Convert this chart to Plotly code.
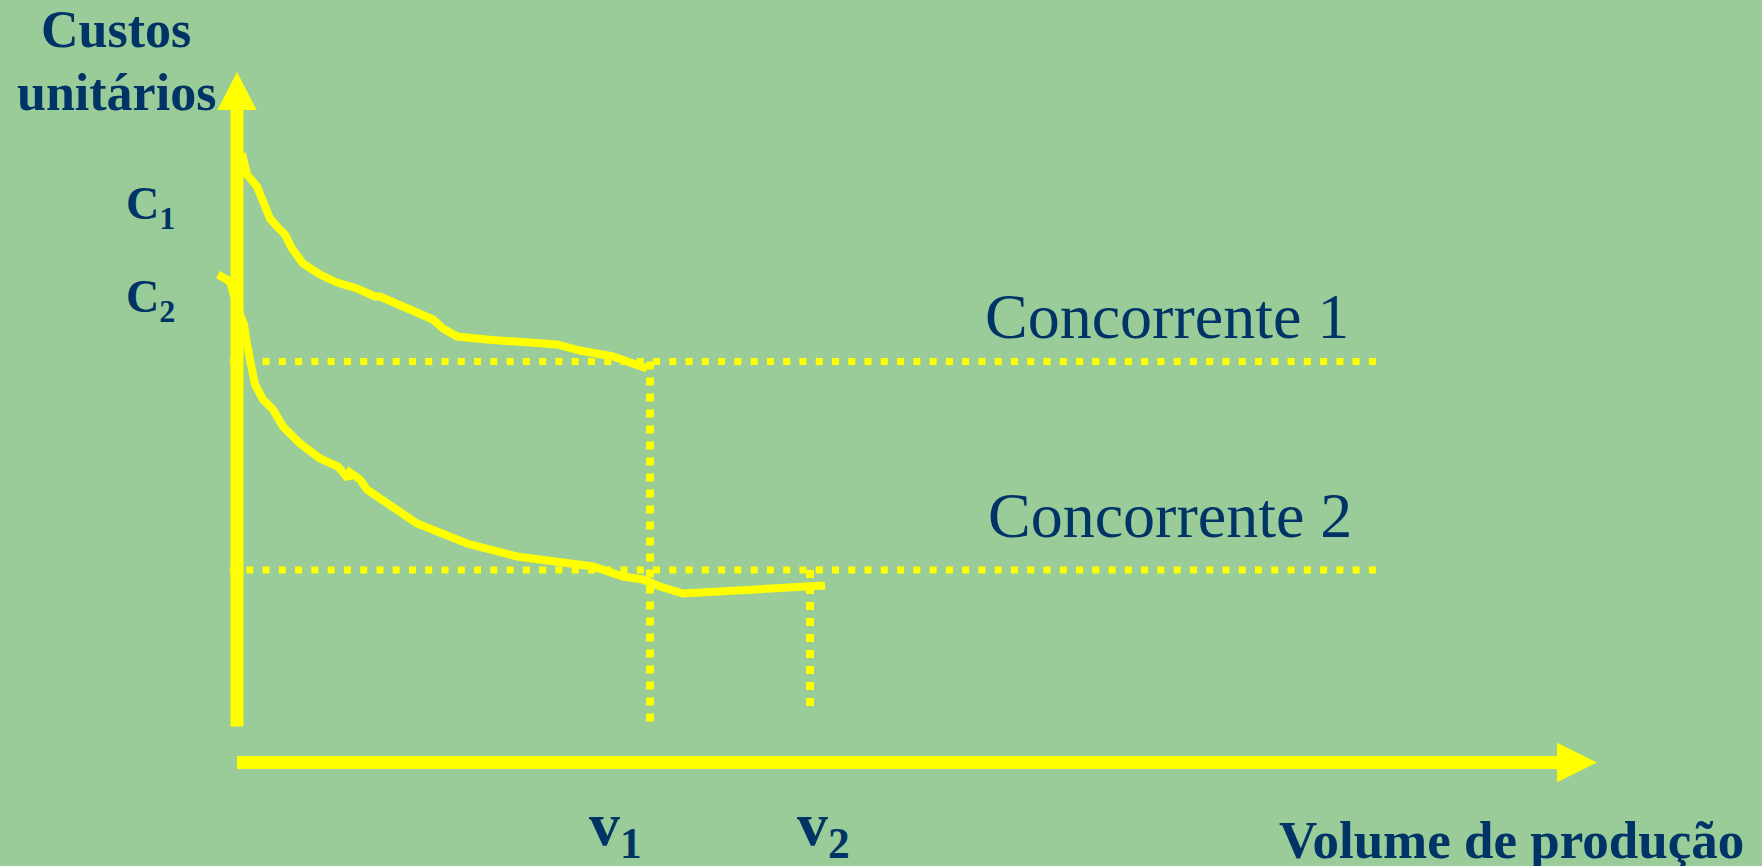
import plotly.graph_objects as go

BG = "#99CC99"
YEL = "#FFFF00"
NAVY = "#003366"
SERIF = "Liberation Serif, Times New Roman, serif"

# ---- data (arbitrary units: volume on x, unit cost on y) ----
c1_vol = [0.05, 0.10, 0.20, 0.26, 0.33, 0.40, 0.48, 0.55, 0.66, 0.83, 1.00, 1.20,
          1.30, 1.38, 1.43, 1.60, 1.83, 1.96, 2.06, 2.20, 2.50, 3.20, 3.43, 3.76, 4.10]
c1_cost = [6.09, 5.88, 5.76, 5.61, 5.44, 5.36, 5.28, 5.14, 4.99, 4.88, 4.80, 4.74,
           4.69, 4.66, 4.66, 4.59, 4.48, 4.43, 4.34, 4.26, 4.23, 4.18, 4.12, 4.06, 3.94]

c2_vol = [-0.19, -0.07, 0.01, 0.07, 0.10, 0.13, 0.18, 0.26, 0.36, 0.46, 0.63, 0.83, 1.01,
          1.11, 1.13, 1.23, 1.30, 1.80, 2.30, 2.80, 3.30, 3.56, 3.86, 4.06, 4.23, 4.46, 5.88]
c2_cost = [4.88, 4.81, 4.53, 4.38, 4.18, 3.98, 3.78, 3.63, 3.53, 3.36, 3.19, 3.04, 2.96,
           2.84, 2.90, 2.83, 2.73, 2.39, 2.19, 2.06, 1.99, 1.96, 1.86, 1.83, 1.76, 1.69, 1.77]

cost_levels = [4.01, 1.925]          # C1, C2
volume_levels = [4.13, 5.73]         # v1, v2
volume_drop_bottom = [0.40, 0.565]   # where the vertical dotted guides stop
level_line_x = [-0.07, 11.39]        # extent of the horizontal dotted guides

# axis geometry (same units)
x_axis_end, x_axis_tip, x_head_half = 13.20, 13.60, 0.198
y_axis_start, y_axis_end, y_axis_tip, y_head_half = 0.36, 6.525, 6.905, 0.195

X_RANGE = [-2.37, 15.25]
Y_RANGE = [-1.035, 7.625]

W, H = 1762, 866


def px_x(p):
    return X_RANGE[0] + p / W * (X_RANGE[1] - X_RANGE[0])


def px_y(p):
    return Y_RANGE[1] - p / H * (Y_RANGE[1] - Y_RANGE[0])


fig = go.Figure()

# horizontal dotted guides
for lvl in cost_levels:
    fig.add_trace(go.Scatter(x=level_line_x, y=[lvl, lvl], mode="lines",
                             line=dict(color=YEL, width=7, dash="7px,9.27px"),
                             hoverinfo="skip"))

# vertical dotted guides
for v, lvl, bot in zip(volume_levels, cost_levels, volume_drop_bottom):
    fig.add_trace(go.Scatter(x=[v, v], y=[lvl, bot], mode="lines",
                             line=dict(color=YEL, width=8, dash="8px,8px"),
                             hoverinfo="skip"))

# cost curves
fig.add_trace(go.Scatter(x=c1_vol, y=c1_cost, mode="lines",
                         line=dict(color=YEL, width=8), hoverinfo="skip"))
fig.add_trace(go.Scatter(x=c2_vol, y=c2_cost, mode="lines",
                         line=dict(color=YEL, width=8), hoverinfo="skip"))

# axes with arrows
fig.add_trace(go.Scatter(x=[0, 0], y=[y_axis_start, y_axis_end], mode="lines",
                         line=dict(color=YEL, width=13), hoverinfo="skip"))
fig.add_trace(go.Scatter(x=[-y_head_half, y_head_half, 0, -y_head_half],
                         y=[y_axis_end, y_axis_end, y_axis_tip, y_axis_end],
                         mode="lines", fill="toself", fillcolor=YEL,
                         line=dict(color=YEL, width=0), hoverinfo="skip"))
fig.add_trace(go.Scatter(x=[0, x_axis_end], y=[0, 0], mode="lines",
                         line=dict(color=YEL, width=13), hoverinfo="skip"))
fig.add_trace(go.Scatter(x=[x_axis_end, x_axis_end, x_axis_tip, x_axis_end],
                         y=[-x_head_half, x_head_half, 0, -x_head_half],
                         mode="lines", fill="toself", fillcolor=YEL,
                         line=dict(color=YEL, width=0), hoverinfo="skip"))


def label(text, x, baseline, size, xanchor="left", bold=False, sub=False):
    shift = 0.22 if sub else 0.3375
    t = f"<b>{text}</b>" if bold else text
    fig.add_annotation(x=px_x(x), y=px_y(baseline - shift * size), text=t,
                       xref="x", yref="y", showarrow=False,
                       xanchor=xanchor, yanchor="middle",
                       font=dict(family=SERIF, size=size, color=NAVY))


label("Custos", 116, 47, 52, xanchor="center", bold=True)
label("unitários", 116, 110, 52, xanchor="center", bold=True)
label("C<sub>1</sub>", 124, 217, 46, bold=True, sub=True)
label("C<sub>2</sub>", 124, 310, 46, bold=True, sub=True)
label("Concorrente 1", 983, 338, 64)
label("Concorrente 2", 986, 537, 64)
label("v<sub>1</sub>", 587, 842, 62, bold=True, sub=True)
label("v<sub>2</sub>", 795, 842, 62, bold=True, sub=True)
label("Volume de produção", 1277, 858, 53, bold=True)

fig.update_layout(
    width=W, height=H,
    margin=dict(l=0, r=0, t=0, b=0),
    paper_bgcolor=BG, plot_bgcolor=BG,
    showlegend=False,
    xaxis=dict(range=X_RANGE, visible=False, fixedrange=True),
    yaxis=dict(range=Y_RANGE, visible=False, fixedrange=True),
)

fig.write_html(
    "out.html",
    config={"displayModeBar": False, "staticPlot": True},
    post_script="document.body.style.margin='0';document.body.style.background='%s';" % BG,
)
